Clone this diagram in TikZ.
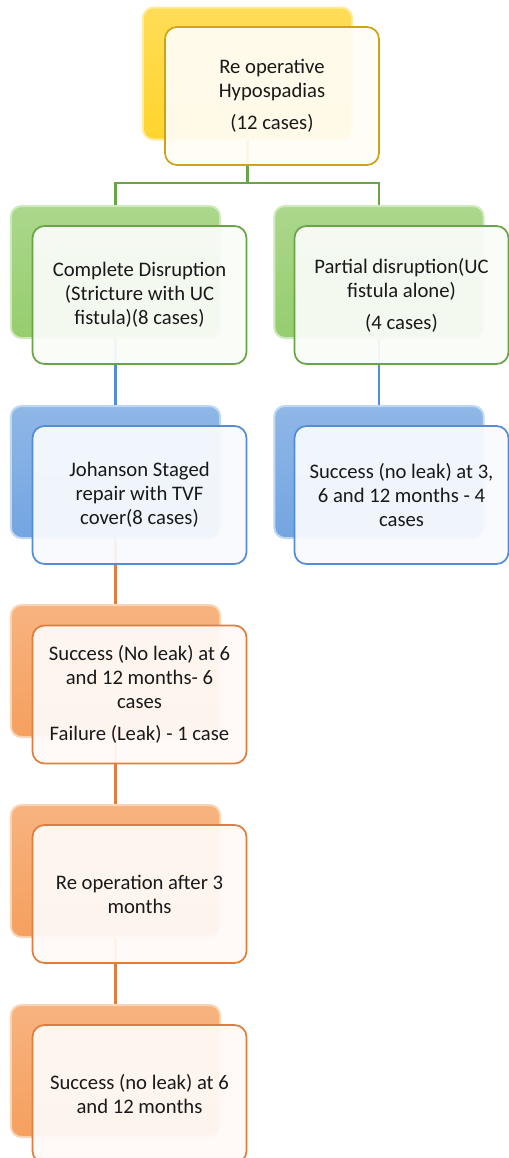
\documentclass[tikz,border=0pt]{standalone}
\usepackage{fontspec}
\setmainfont{Carlito}
\usetikzlibrary{backgrounds}
\definecolor{ink}{RGB}{25,25,25}
\definecolor{gold}{RGB}{255,212,45}
\definecolor{goldline}{RGB}{205,165,20}
\definecolor{leaf}{RGB}{150,205,110}
\definecolor{leafline}{RGB}{105,165,70}
\definecolor{sky}{RGB}{115,165,225}
\definecolor{skyline}{RGB}{85,140,215}
\definecolor{peach}{RGB}{245,160,95}
\definecolor{peachline}{RGB}{225,125,60}

\begin{document}
\begin{tikzpicture}[x=.75pt,y=-.75pt,back/.style={rounded corners=8pt,minimum width=157pt,minimum height=99pt,draw=#1!45,line width=1.5pt,top color=#1!80,bottom color=#1},front/.style={rounded corners=9pt,minimum width=160.5pt,minimum height=103.5pt,draw=#1line,line width=1.3pt,fill=#1!5,fill opacity=.94,text opacity=1,text=ink,align=center,font=\fontsize{15.5}{18}\selectfont},link/.style={line width=1.6pt,draw=#1}]
\useasboundingbox (0,0) rectangle (509,1158);
\node[back=gold] (rootback) at (247.5,73.5) {};
\node[back=leaf] (cdback) at (115.5,272) {};
\node[back=leaf] (pdback) at (379,272) {};
\node[back=sky] (jsback) at (115.5,472) {};
\node[back=sky] (psback) at (379,472) {};
\node[back=peach] (soback) at (115.5,671) {};
\node[back=peach] (roback) at (115.5,871) {};
\node[back=peach] (sfback) at (115.5,1071) {};
\coordinate (fork) at (247.5,183);
\begin{scope}[on background layer]
\draw[link=leafline] (rootback.center) -- (fork);
\draw[link=leafline] (cdback.center) |- (fork) -| (pdback.center);
\draw[link=skyline] (cdback.center) -- (jsback.center);
\draw[link=skyline] (pdback.center) -- (psback.center);
\draw[link=peachline] (jsback.center) -- (soback.center);
\draw[link=peachline] (soback.center) -- (roback.center);
\draw[link=peachline] (roback.center) -- (sfback.center);
\end{scope}
\node[front=gold] (root) at (272,96) {Re operative\\Hypospadias\\[6pt](12 cases)};
\node[front=leaf] (cd) at (139.5,295) {Complete Disruption\\(Stricture with UC\\fistula)(8 cases)};
\node[front=leaf] (pd) at (401.5,295) {Partial disruption(UC\\fistula alone)\\[6pt](4 cases)};
\node[front=sky] (js) at (139.5,495) {Johanson Staged\\repair with TVF\\cover(8 cases)};
\node[front=sky] (ps) at (401.5,495) {Success (no leak) at 3,\\6 and 12 months - 4\\cases};
\node[front=peach] (so) at (139.5,694.5) {Success (No leak) at 6\\and 12 months- 6\\cases\\[6pt]Failure (Leak) - 1 case};
\node[front=peach] (ro) at (139.5,894) {Re operation after 3\\months};
\node[front=peach] (sf) at (139.5,1094) {Success (no leak) at 6\\and 12 months};
\end{tikzpicture}
\end{document}
